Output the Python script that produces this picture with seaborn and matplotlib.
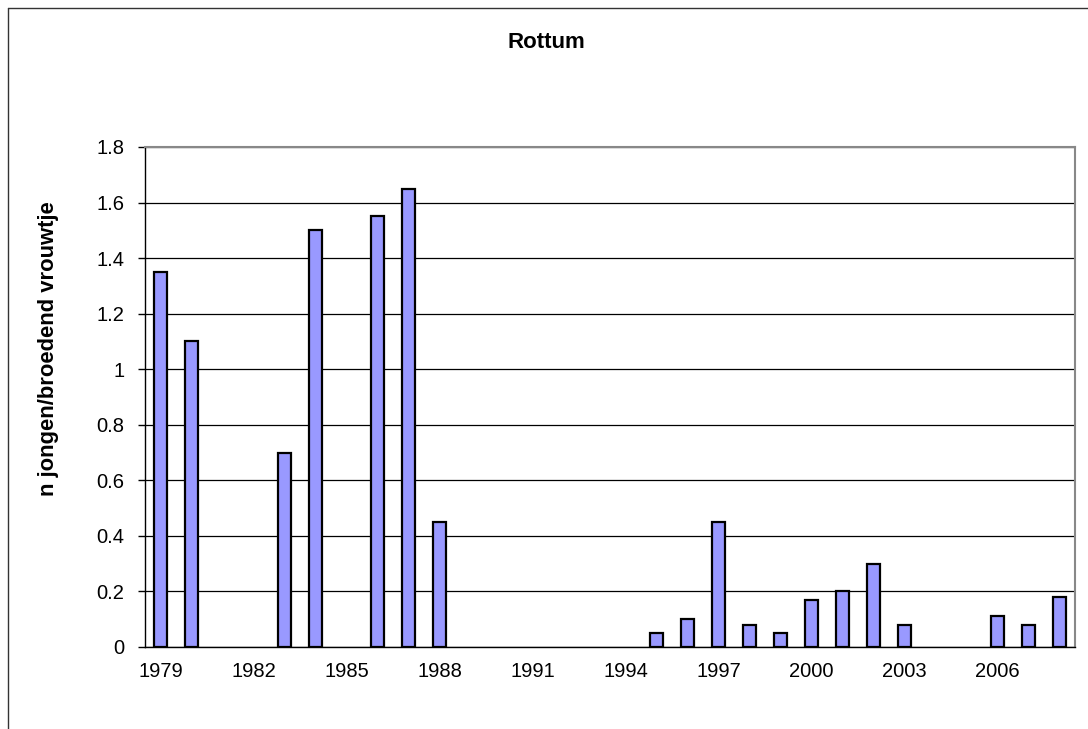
import numpy as np
import pandas as pd
import matplotlib
matplotlib.use("Agg")
import matplotlib.pyplot as plt
import seaborn as sns
from matplotlib.lines import Line2D

# --- data ---
years = list(range(1979, 2009))
values = [1.35, 1.10, None, None, 0.70, 1.50, None, 1.55, 1.65, 0.45,
          None, None, None, None, None, None, 0.05, 0.10, 0.45, 0.08,
          0.05, 0.17, 0.20, 0.30, 0.08, None, None, 0.11, 0.08, 0.18]
year_labels = [str(y) for y in years[::3]]
y_ticks = [0, 0.2, 0.4, 0.6, 0.8, 1.0, 1.2, 1.4, 1.6, 1.8]
y_tick_labels = ["0", "0.2", "0.4", "0.6", "0.8", "1", "1.2", "1.4", "1.6", "1.8"]
title = "Rottum"
ylabel = "n jongen/broedend vrouwtje"

df = pd.DataFrame({"year": years, "value": values})

sns.set_theme(style="white")
plt.rcParams["font.family"] = ["Liberation Sans", "DejaVu Sans"]
plt.rcParams["text.color"] = "black"
plt.rcParams["xtick.color"] = "black"
plt.rcParams["ytick.color"] = "black"
plt.rcParams["axes.labelcolor"] = "black"

fig = plt.figure(figsize=(10.88, 7.29), dpi=100)
ax = fig.add_axes([145 / 1088, 1 - 647 / 729, 930 / 1088, 500 / 729])

sns.barplot(data=df, x="year", y="value", order=years, color="#9999ff",
            saturation=1, edgecolor="black", linewidth=1.6, width=0.42,
            errorbar=None, ax=ax)

ax.set_xlim(-0.5, len(years) - 0.5)
ax.set_ylim(0, 1.8)

# x ticks: marks on category boundaries, labels every 3 years
ax.set_xticks(range(0, len(years), 3))
ax.set_xticklabels(year_labels, fontsize=14.5)
ax.set_xticks(np.arange(-0.5, len(years), 1), minor=True)
ax.tick_params(axis="x", which="major", length=0, pad=11)
ax.tick_params(axis="x", which="minor", length=4.5, width=1, color="black", direction="out")

ax.set_yticks(y_ticks)
ax.set_yticklabels(y_tick_labels, fontsize=14.5)
ax.tick_params(axis="y", length=5, width=1, color="black", direction="out", left=True, pad=10)

ax.yaxis.grid(True, color="black", linewidth=0.9)
ax.set_axisbelow(True)

for side in ["left", "bottom"]:
    ax.spines[side].set_color("black")
    ax.spines[side].set_linewidth(1)
for side in ["top", "right"]:
    ax.spines[side].set_color("#888888")
    ax.spines[side].set_linewidth(1.5)

ax.set_xlabel("")
ax.set_ylabel(ylabel, fontsize=15.8, fontweight="bold")
ax.yaxis.set_label_coords(-86 / 930, (647 - 349) / 500)

fig.text(0.502, 1 - 43 / 729, title, ha="center", va="center", fontsize=16, fontweight="bold")

# chart frame (runs off the right and bottom edges)
x0, y0 = 8 / 1088, 1 - 8 / 729
fig.add_artist(Line2D([x0, x0], [y0, 0], transform=fig.transFigure, color="#333333", linewidth=1))
fig.add_artist(Line2D([x0, 1], [y0, y0], transform=fig.transFigure, color="#333333", linewidth=1))

fig.savefig("out.png", dpi=100)
